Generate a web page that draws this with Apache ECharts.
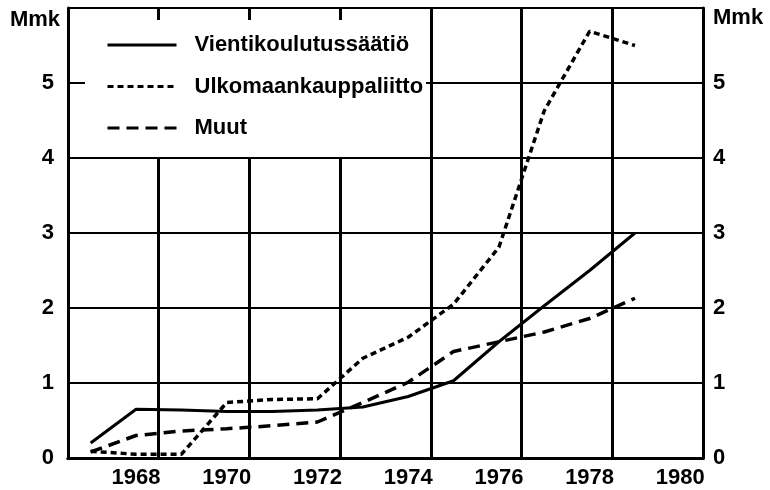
<!DOCTYPE html>
<html>
<head>
<meta charset="utf-8">
<script src="https://cdn.jsdelivr.net/npm/echarts@6/dist/echarts.min.js"></script>
<style>
  html, body { margin: 0; padding: 0; background: #fff; }
  #chart-container { width: 770px; height: 490px; }
</style>
</head>
<body>
<div id="chart-container"></div>
<script>
var dom = document.getElementById("chart-container");
var myChart = echarts.init(dom, null, { renderer: "canvas" });

// values (Mmk)
const years = [1967, 1968, 1969, 1970, 1971, 1972, 1973, 1974, 1975, 1976, 1977, 1978, 1979];
const vientikoulutus = [0.2, 0.65, 0.64, 0.62, 0.62, 0.64, 0.68, 0.82, 1.03, 1.55, 2.03, 2.5, 3.0];
const ulkomaankauppa = [0.09, 0.05, 0.05, 0.74, 0.78, 0.79, 1.33, 1.61, 2.05, 2.81, 4.63, 5.69, 5.5];
const muut = [0.08, 0.3, 0.36, 0.39, 0.43, 0.48, 0.74, 1.01, 1.42, 1.55, 1.68, 1.86, 2.13];
const yearLabels = [1968, 1970, 1972, 1974, 1976, 1978, 1980];
const seriesNames = ["Vientikoulutussäätiö", "Ulkomaankauppaliitto", "Muut"];

const font = "Liberation Sans";
const toPairs = (vals) => years.map((y, i) => [y, vals[i]]);

var option = {
  animation: false,
  backgroundColor: "#fff",
  textStyle: { fontFamily: font },
  grid: { left: 68, right: 67, top: 8, bottom: 32 },
  legend: {
    orient: "vertical",
    left: 85,
    top: 20,
    padding: [14, 3, 18, 21],
    itemGap: 19.5,
    itemWidth: 69,
    itemHeight: 14,
    backgroundColor: "#fff",
    selectedMode: false,
    data: seriesNames,
    itemStyle: { opacity: 0 },
    lineStyle: { width: 3 },
    textStyle: {
      fontFamily: font,
      fontSize: 22,
      fontWeight: "bold",
      color: "#000",
      padding: [0, 0, 0, 13],
    },
  },
  xAxis: [
    {
      type: "value",
      min: 1966.5,
      max: 1980.5,
      position: "bottom",
      axisLine: { show: true, onZero: false, lineStyle: { color: "#000", width: 3 } },
      axisTick: { show: false },
      splitLine: { show: false },
      axisLabel: {
        customValues: yearLabels,
        formatter: (v) => String(v),
        margin: 9,
        fontSize: 22,
        fontWeight: "bold",
        color: "#000",
        fontFamily: font,
      },
    },
    {
      // two-year grid columns
      type: "value",
      min: 0,
      max: 14,
      interval: 2,
      position: "top",
      axisLine: { show: true, lineStyle: { color: "#000", width: 3 } },
      axisTick: { show: false },
      axisLabel: { show: false },
      splitLine: { show: true, lineStyle: { color: "#000", width: 3 } },
    },
  ],
  yAxis: [
    {
      type: "value",
      min: 0,
      max: 6,
      interval: 1,
      position: "left",
      name: "Mmk",
      nameLocation: "end",
      nameGap: -12,
      nameTextStyle: {
        fontSize: 22,
        fontWeight: "bold",
        color: "#000",
        fontFamily: font,
        align: "right",
        verticalAlign: "middle",
        padding: [0, 8, 0, 0],
      },
      axisLine: { show: true, lineStyle: { color: "#000", width: 3 } },
      axisTick: { show: false },
      splitLine: { show: true, lineStyle: { color: "#000", width: 2 } },
      axisLabel: {
        showMaxLabel: false,
        margin: 14,
        fontSize: 22,
        fontWeight: "bold",
        color: "#000",
        fontFamily: font,
      },
    },
    {
      type: "value",
      min: 0,
      max: 6,
      interval: 1,
      position: "right",
      name: "Mmk",
      nameLocation: "end",
      nameGap: -10,
      nameTextStyle: {
        fontSize: 22,
        fontWeight: "bold",
        color: "#000",
        fontFamily: font,
        align: "left",
        verticalAlign: "middle",
        padding: [0, 0, 0, 10],
      },
      axisLine: { show: true, lineStyle: { color: "#000", width: 3 } },
      axisTick: { show: false },
      splitLine: { show: false },
      axisLabel: {
        showMaxLabel: false,
        margin: 10,
        fontSize: 22,
        fontWeight: "bold",
        color: "#000",
        fontFamily: font,
      },
    },
  ],
  series: [
    {
      name: seriesNames[0],
      type: "line",
      data: toPairs(vientikoulutus),
      symbol: "none",
      lineStyle: { color: "#000", width: 3 },
      itemStyle: { color: "#000" },
    },
    {
      name: seriesNames[1],
      type: "line",
      data: toPairs(ulkomaankauppa),
      symbol: "none",
      lineStyle: { color: "#000", width: 3.5, type: [6, 4] },
      itemStyle: { color: "#000" },
    },
    {
      name: seriesNames[2],
      type: "line",
      data: toPairs(muut),
      symbol: "none",
      lineStyle: { color: "#000", width: 3.5, type: [12, 7] },
      itemStyle: { color: "#000" },
    },
  ],
};

myChart.setOption(option);
window.addEventListener("resize", myChart.resize);
</script>
</body>
</html>
